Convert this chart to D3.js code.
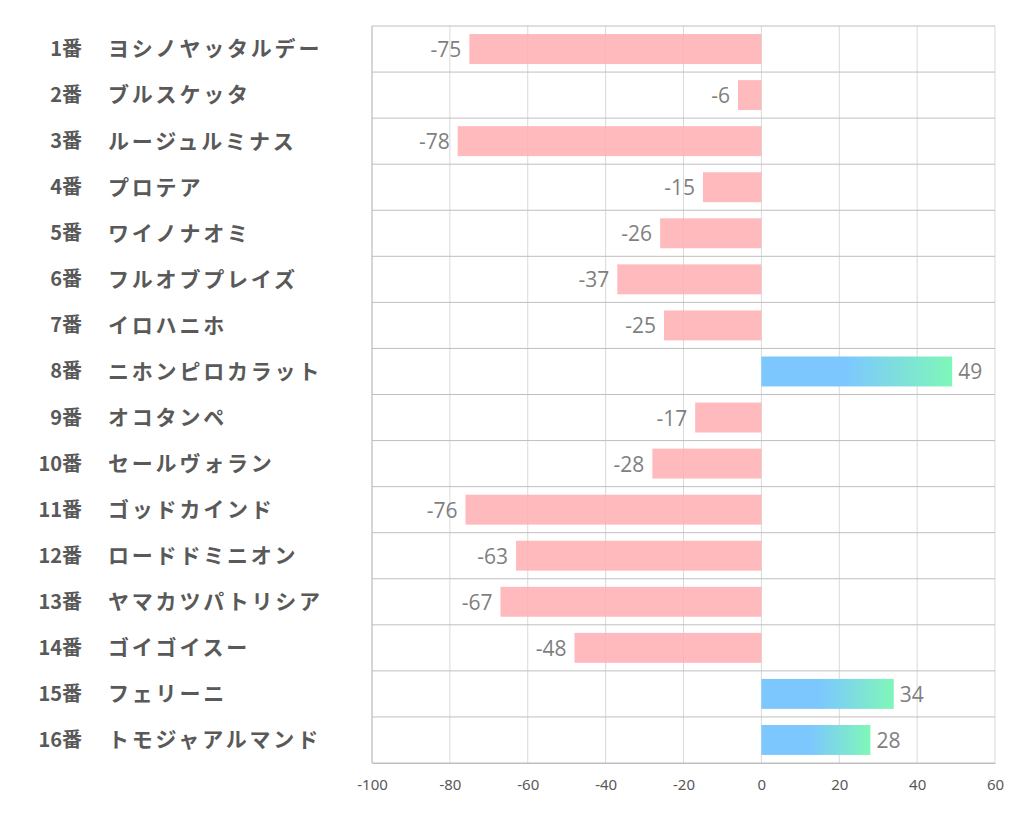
<!DOCTYPE html>
<html><head><meta charset="utf-8">
<script src="https://cdnjs.cloudflare.com/ajax/libs/d3/7.8.5/d3.min.js"></script>
<style>body{margin:0;background:#fff;}</style>
</head><body>
<script>
const numbers = ["1番","2番","3番","4番","5番","6番","7番","8番","9番","10番","11番","12番","13番","14番","15番","16番"];
const names = ["ヨシノヤッタルデー","ブルスケッタ","ルージュルミナス","プロテア","ワイノナオミ","フルオブプレイズ","イロハニホ","ニホンピロカラット","オコタンペ","セールヴォラン","ゴッドカインド","ロードドミニオン","ヤマカツパトリシア","ゴイゴイスー","フェリーニ","トモジャアルマンド"];
const values = [-75,-6,-78,-15,-26,-37,-25,49,-17,-28,-76,-63,-67,-48,34,28];
const tickValues = [-100,-80,-60,-40,-20,0,20,40,60];

(function(){
const W = 1022, H = 834;
const svg = d3.select("body").append("svg").attr("width", W).attr("height", H);
const defs = svg.append("defs");
const grad = defs.append("linearGradient").attr("id","posGrad").attr("x1","0").attr("x2","1").attr("y1","0").attr("y2","0");
grad.append("stop").attr("offset","0%").attr("stop-color","#7cc8fe");
grad.append("stop").attr("offset","45%").attr("stop-color","#7cc8fe");
grad.append("stop").attr("offset","100%").attr("stop-color","#7ff7b8");

const pL = 372, pR = 995, pT = 26, pB = 763;
const x = d3.scaleLinear().domain([-100, 60]).range([pL, pR]);
const y = d3.scaleBand().domain(d3.range(values.length)).range([pT, pB]).paddingInner(0.35).paddingOuter(0.175);
const step = (pB - pT) / values.length;

svg.append("g").selectAll("line").data(tickValues).join("line")
  .attr("x1", d => x(d)).attr("x2", d => x(d)).attr("y1", pT).attr("y2", pB)
  .attr("stroke", "#d9d9d9").attr("stroke-width", 1);
svg.append("g").selectAll("line").data(d3.range(values.length + 1)).join("line")
  .attr("x1", pL).attr("x2", pR)
  .attr("y1", d => pT + d * step).attr("y2", d => pT + d * step)
  .attr("stroke", "#bfbfbf").attr("stroke-width", 1);
svg.append("line").attr("x1", pL).attr("x2", pL).attr("y1", pT).attr("y2", pB).attr("stroke","#bfbfbf");

svg.append("g").selectAll("rect").data(values).join("rect")
  .attr("x", d => x(Math.min(0, d)))
  .attr("width", d => Math.abs(x(d) - x(0)))
  .attr("y", (d, i) => y(i))
  .attr("height", y.bandwidth())
  .attr("fill", d => d < 0 ? "#ffaeb1" : "url(#posGrad)")
  .attr("fill-opacity", d => d < 0 ? 0.85 : 1);

svg.append("g").selectAll("text").data(values).join("text")
  .attr("x", d => d < 0 ? x(d) - 8 : x(d) + 6)
  .attr("y", (d, i) => y(i) + y.bandwidth() / 2)
  .attr("dy", "0.38em")
  .attr("text-anchor", d => d < 0 ? "end" : "start")
  .attr("font-family", "'Open Sans', 'Noto Sans', sans-serif")
  .attr("font-size", 21)
  .attr("fill", "#7f7f7f")
  .text(d => String(d));

const lab = svg.append("g").attr("font-family", "'Noto Sans CJK JP', sans-serif").attr("font-weight", "bold").attr("fill", "#595959");
lab.selectAll("text.num").data(numbers).join("text").attr("class","num")
  .attr("x", 82).attr("y", (d, i) => pT + (i + 0.5) * step).attr("dy", "0.35em")
  .attr("font-size", 20)
  .attr("text-anchor", "end").text(d => d);
lab.selectAll("text.nm").data(names).join("text").attr("class","nm")
  .attr("x", 108).attr("y", (d, i) => pT + (i + 0.5) * step).attr("dy", "0.35em")
  .attr("font-size", 21).attr("letter-spacing", 2.8)
  .attr("text-anchor", "start").text(d => d);

const axis = svg.append("g").attr("transform", `translate(0,${pB})`)
  .call(d3.axisBottom(x).tickValues(tickValues).tickSize(0).tickPadding(16).tickFormat(d => String(d)));
axis.select(".domain").attr("stroke", "#bfbfbf");
axis.selectAll("text").attr("font-family", "'Liberation Sans Narrow', 'Noto Sans', sans-serif").attr("font-size", 15).attr("fill", "#595959");
})();
</script>
</body></html>
